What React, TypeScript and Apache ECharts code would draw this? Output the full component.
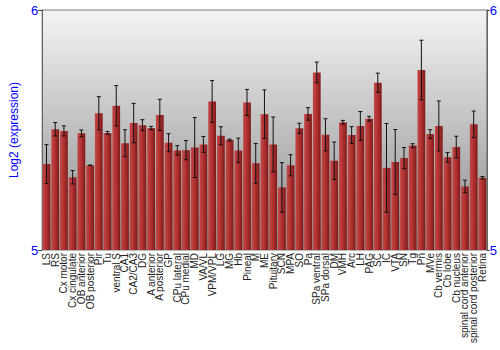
import React, { useEffect, useRef } from "react";
import * as echarts from "echarts";

const categories = [
  "LS", "RS", "Cx motor", "Cx cingulate", "OB anterior", "OB posterior", "Pir", "Tu",
  "ventral S", "CA1", "CA2/CA3", "DG", "A anterior", "A posterior", "GP", "CPu lateral",
  "CPu medial", "MD", "VA/VL", "VPM/VPL", "LG", "MG", "Hb", "Pineal", "M", "ME",
  "Pituitary", "SCN", "MPA", "SO", "Pa", "SPa ventral", "SPa dorsal", "DM", "VMH", "Arc",
  "LH", "PAG", "SC", "IC", "VTA", "SN", "Tg", "Pn", "MVe", "Cb vermis", "Cb lobe",
  "Cb nucleus", "spinal cord anterior", "spinal cord posterior", "Retina",
];

const values = [
  5.358, 5.503, 5.496, 5.303, 5.486, 5.353, 5.570, 5.488,
  5.601, 5.445, 5.529, 5.520, 5.508, 5.563, 5.447, 5.415,
  5.416, 5.427, 5.440, 5.619, 5.476, 5.458, 5.415, 5.615, 5.361, 5.566,
  5.440, 5.261, 5.353, 5.507, 5.567, 5.740, 5.480, 5.372, 5.532, 5.479,
  5.517, 5.547, 5.697, 5.342, 5.367, 5.383, 5.435, 5.750, 5.483, 5.517, 5.386,
  5.429, 5.265, 5.524, 5.301,
];

const errors = [
  0.081, 0.028, 0.021, 0.028, 0.014, 0.001, 0.069, 0.006,
  0.084, 0.056, 0.082, 0.023, 0.007, 0.065, 0.0375, 0.020,
  0.040, 0.125, 0.033, 0.087, 0.0375, 0.004, 0.051, 0.054, 0.083, 0.101,
  0.114, 0.103, 0.044, 0.021, 0.026, 0.043, 0.067, 0.078, 0.008, 0.035,
  0.060, 0.010, 0.040, 0.185, 0.135, 0.044, 0.008, 0.124, 0.018, 0.104, 0.020,
  0.045, 0.026, 0.055, 0.005,
];

const yMin = 5;
const yMax = 6;

export default function App() {
  const ref = useRef<HTMLDivElement>(null);
  useEffect(() => {
    if (!ref.current) return;
    const chart = echarts.init(ref.current, null, { renderer: "svg" });
    const font = "'Liberation Sans', Arial, sans-serif";
    const yAxisCommon = {
      type: "value" as const,
      min: yMin,
      max: yMax,
      interval: 1,
      splitLine: { show: false },
      axisLine: { show: true, lineStyle: { color: "#666" } },
      axisTick: { show: true, length: 4, lineStyle: { color: "#444" } },
      axisLabel: { color: "#0000ff", fontSize: 13, fontFamily: font, margin: 4 },
    };
    chart.setOption({
      animation: false,
      backgroundColor: "#ffffff",
      grid: {
        left: 27,
        right: 13,
        top: 10,
        bottom: 100,
        show: true,
        borderColor: "#777",
        borderWidth: 1,
        backgroundColor: new echarts.graphic.LinearGradient(0, 0, 0, 1, [
          { offset: 0, color: "#f4f4f4" },
          { offset: 1, color: "#8a8a8a" },
        ]),
      },
      xAxis: {
        type: "category",
        data: categories,
        axisLine: { show: false },
        axisTick: { show: false },
        axisLabel: {
          interval: 0,
          rotate: 90,
          fontSize: 10,
          color: "#222",
          fontFamily: font,
          margin: 3,
        },
      },
      yAxis: [
        {
          ...yAxisCommon,
          position: "left",
          name: "Log2 (expression)",
          nameLocation: "middle",
          nameGap: 12,
          nameTextStyle: { color: "#0000ff", fontSize: 12, fontFamily: font },
        },
        { ...yAxisCommon, position: "right", axisLabel: { ...yAxisCommon.axisLabel, margin: 3 }, axisTick: { ...yAxisCommon.axisTick, length: 3 } },
      ],
      series: [
        {
          type: "bar",
          data: values,
          barCategoryGap: "11%",
          itemStyle: {
            color: new echarts.graphic.LinearGradient(0, 0, 1, 0, [
              { offset: 0, color: "#c44848" },
              { offset: 0.5, color: "#b03030" },
              { offset: 1, color: "#7e1a1a" },
            ]),
          },
        },
        {
          type: "custom",
          data: categories.map((_, i) => [i, values[i], errors[i]]),
          renderItem: (params: any, api: any) => {
            const x = api.value(0);
            const v = api.value(1);
            const e = api.value(2);
            const hi = api.coord([x, v + e]);
            const lo = api.coord([x, v - e]);
            const cap = 2;
            const style = { stroke: "#111", lineWidth: 1 };
            return {
              type: "group",
              children: [
                { type: "line", shape: { x1: hi[0], y1: hi[1], x2: lo[0], y2: lo[1] }, style },
                { type: "line", shape: { x1: hi[0] - cap, y1: hi[1], x2: hi[0] + cap, y2: hi[1] }, style },
                { type: "line", shape: { x1: lo[0] - cap, y1: lo[1], x2: lo[0] + cap, y2: lo[1] }, style },
              ],
            };
          },
          z: 10,
        },
      ],
    });
    return () => chart.dispose();
  }, []);
  return (
    <div
      ref={ref}
      style={{ position: "fixed", left: 0, top: 0, width: 500, height: 350, background: "#fff" }}
    />
  );
}
